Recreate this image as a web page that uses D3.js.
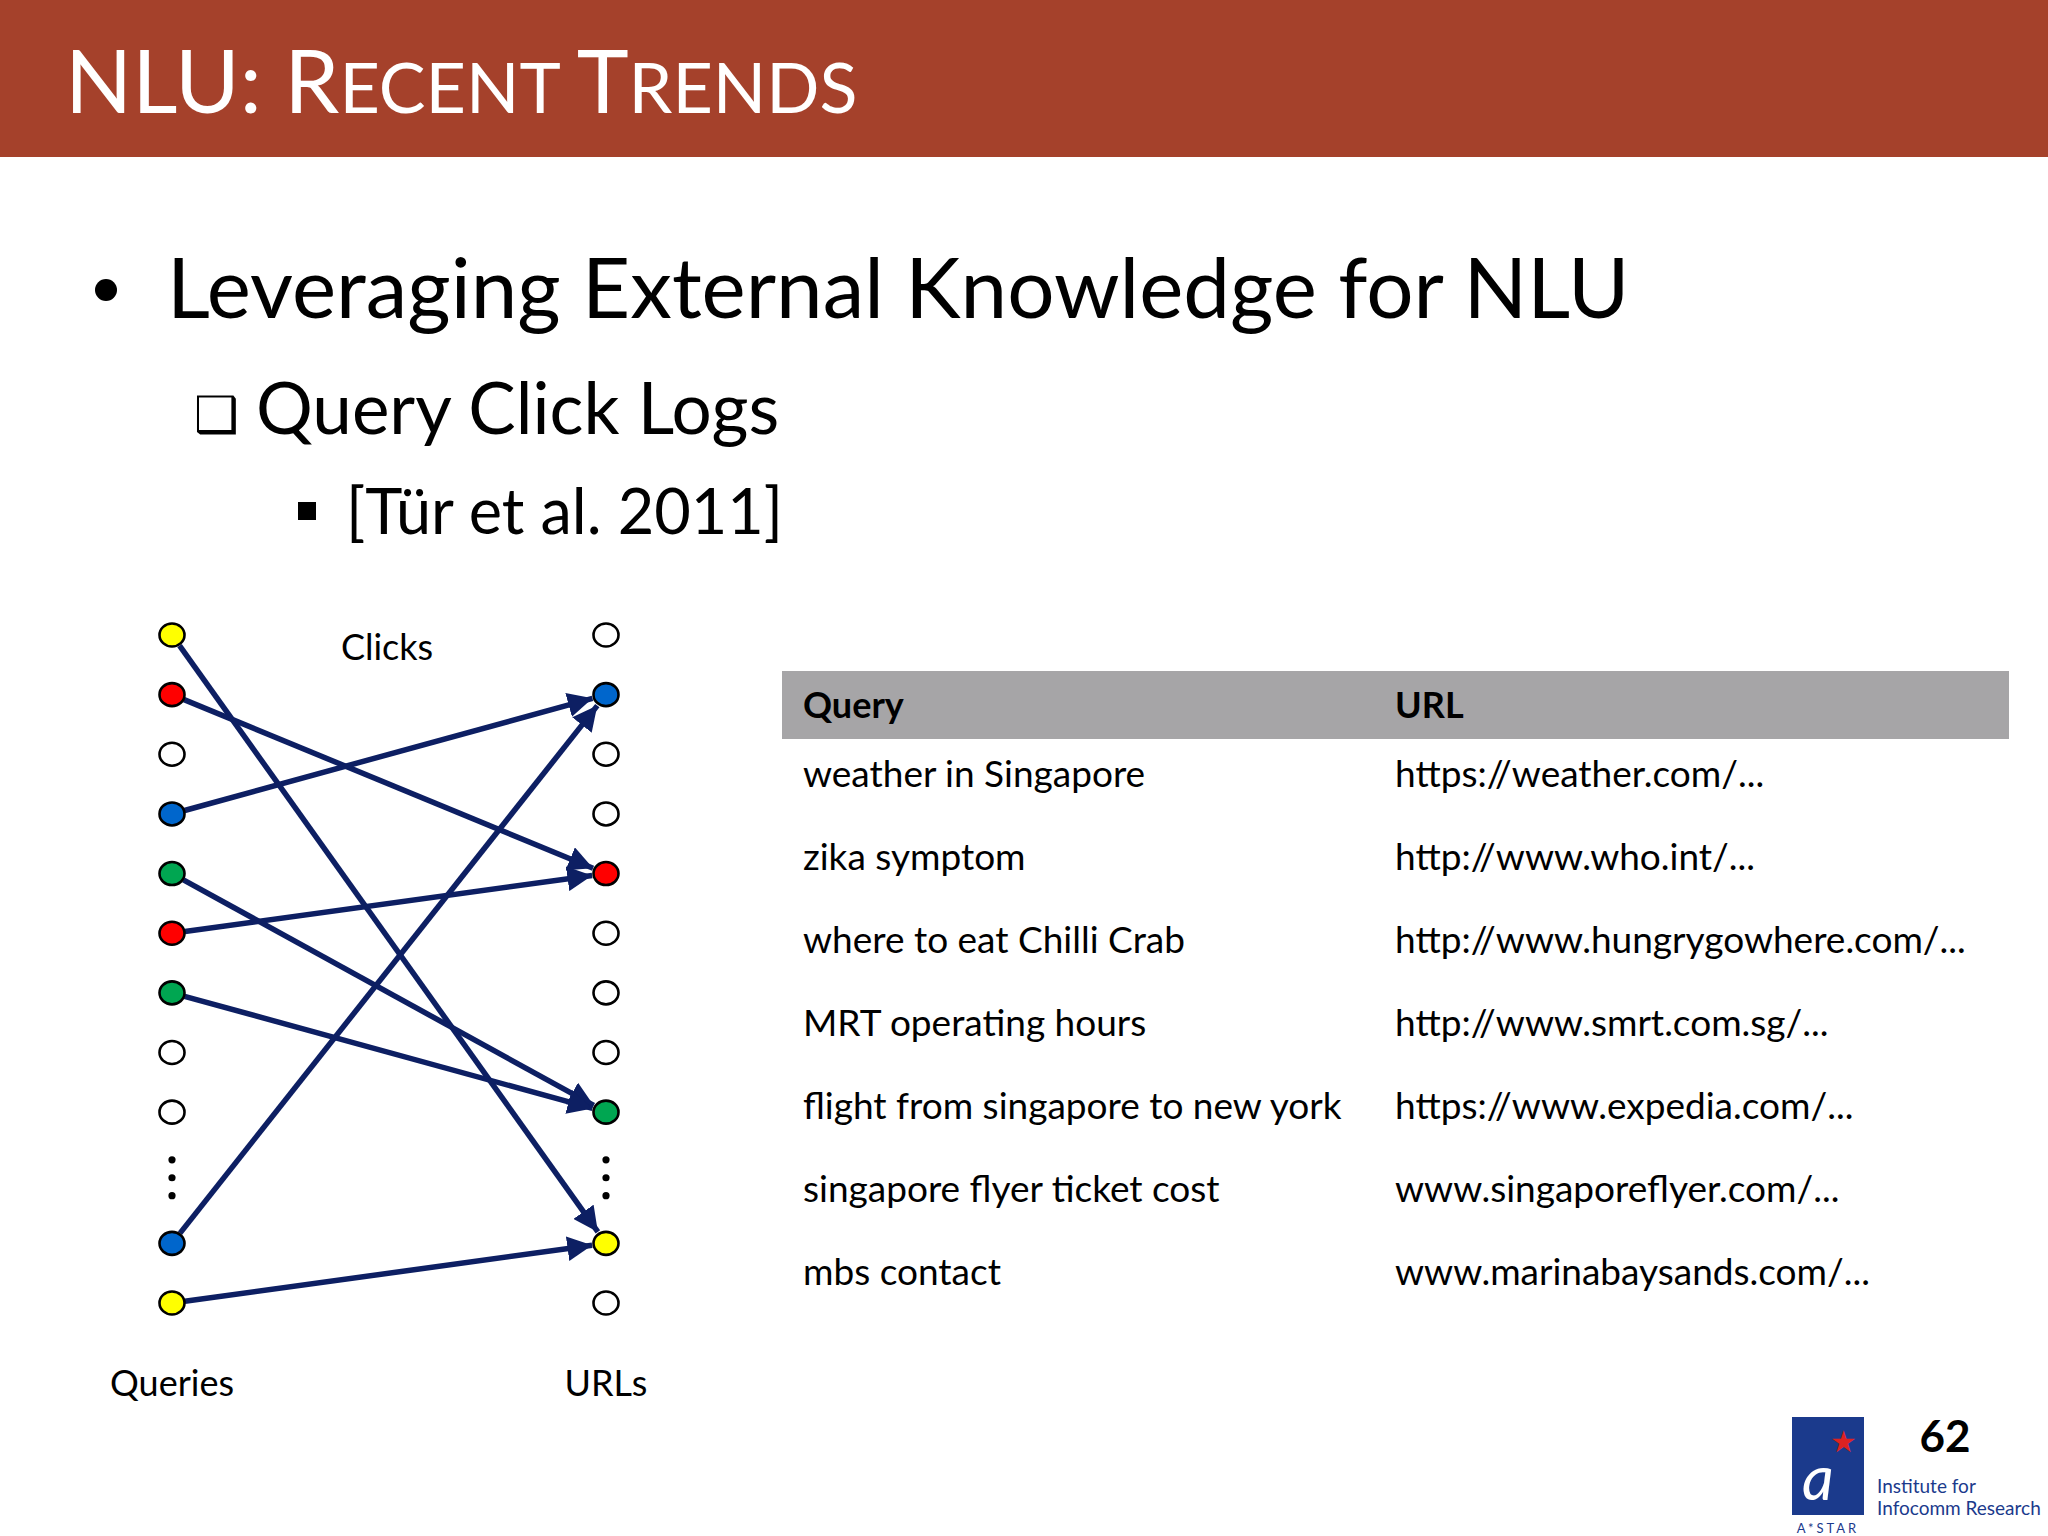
<!DOCTYPE html><html><head><meta charset="utf-8">
<script src="https://cdn.jsdelivr.net/npm/d3@7"></script>
<style>body{margin:0;background:#fff}text{font-family:Lato,"Open Sans",sans-serif}</style></head><body>
<svg id="c" width="2048" height="1536"></svg>
<script>
const leftColors=["#ffff00","#ff0000","#fff","#0066cc","#00a651","#ff0000","#00a651","#fff","#fff","#0066cc","#ffff00"];
const rightColors=["#fff","#0066cc","#fff","#fff","#ff0000","#fff","#fff","#fff","#00a651","#ffff00","#fff"];
const slots=[0,1,2,3,4,5,6,7,8,10.2,11.2];
const edges=[[0,9],[1,4],[3,1],[4,8],[5,4],[6,8],[9,1],[10,9]];
const queries=["weather in Singapore","zika symptom","where to eat Chilli Crab","MRT operating hours","flight from singapore to new york","singapore flyer ticket cost","mbs contact"];
const urls=["https://weather.com/...","http://www.who.int/...","http://www.hungrygowhere.com/...","http://www.smrt.com.sg/...","https://www.expedia.com/...","www.singaporeflyer.com/...","www.marinabaysands.com/..."];

const svg=d3.select("#c");
svg.append("rect").attr("width",2048).attr("height",157).attr("fill","#A5412B");
const t=svg.append("text").attr("x",65).attr("y",113).attr("fill","#fff").attr("font-size",88);
t.append("tspan").text("NLU: R");t.append("tspan").attr("font-size",70).text("ECENT ");
t.append("tspan").text("T");t.append("tspan").attr("font-size",70).text("RENDS");
svg.append("circle").attr("cx",106).attr("cy",290).attr("r",11).attr("fill","#000");
svg.append("text").attr("x",167).attr("y",318).attr("font-size",83.5).text("Leveraging External Knowledge for NLU");
svg.append("text").attr("x",194).attr("y",432).attr("font-size",50).text("❑");
svg.append("text").attr("x",256).attr("y",434).attr("font-size",71).text("Query Click Logs");
svg.append("rect").attr("x",298).attr("y",502).attr("width",18).attr("height",18).attr("fill","#000");
svg.append("text").attr("x",346).attr("y",534).attr("font-size",63).text("[Tür et al. 2011]");

// graph
const y=d3.scaleLinear().domain([0,11.2]).range([635,1303]);
const x=d3.scalePoint().domain(["Queries","URLs"]).range([172,606]);
const g=svg.append("g");
g.append("defs").append("marker").attr("id","ah").attr("viewBox","0 0 10 10").attr("refX",10).attr("refY",5)
 .attr("markerWidth",4.5).attr("markerHeight",4.5).attr("orient","auto").attr("markerUnits","strokeWidth")
 .append("path").attr("d","M0,0L10,5L0,10z").attr("fill","#0D1F63");
const R=13;
edges.forEach(([a,b])=>{
 const x1=x("Queries"),y1=y(slots[a]),x2=x("URLs"),y2=y(slots[b]);
 const dx=x2-x1,dy=y2-y1,L=Math.hypot(dx,dy);
 g.append("line").attr("x1",x1+dx/L*R).attr("y1",y1+dy/L*R).attr("x2",x2-dx/L*(R+1)).attr("y2",y2-dy/L*(R+1))
  .attr("stroke","#0D1F63").attr("stroke-width",5.5).attr("marker-end","url(#ah)");
});
[[leftColors,"Queries"],[rightColors,"URLs"]].forEach(([cols,k])=>{
 g.selectAll(null).data(cols).enter().append("ellipse").attr("cx",x(k)).attr("cy",(d,i)=>y(slots[i]))
  .attr("rx",12.5).attr("ry",11.5).attr("fill",d=>d).attr("stroke","#000").attr("stroke-width",2.6);
 [9.05-0.3,9.05,9.05+0.3].forEach(s=>g.append("circle").attr("cx",x(k)).attr("cy",y(s+0.05)).attr("r",3.6).attr("fill","#000"));
 g.append("text").attr("x",x(k)).attr("y",1396).attr("text-anchor","middle").attr("font-size",36).text(k);
});
g.append("text").attr("x",387).attr("y",660).attr("text-anchor","middle").attr("font-size",36).text("Clicks");

// table
svg.append("rect").attr("x",782).attr("y",671).attr("width",1227).attr("height",68).attr("fill","#A6A5A7");
svg.append("text").attr("x",803).attr("y",718).attr("font-size",36).attr("font-weight","bold").text("Query");
svg.append("text").attr("x",1395).attr("y",718).attr("font-size",36).attr("font-weight","bold").text("URL");
const ry=d3.scaleLinear().domain([0,6]).range([787,1285]);
svg.selectAll(null).data(queries).enter().append("text").attr("x",803).attr("y",(d,i)=>ry(i)).attr("font-size",37).text(d=>d);
svg.selectAll(null).data(urls).enter().append("text").attr("x",1395).attr("y",(d,i)=>ry(i)).attr("font-size",37).text(d=>d);

// footer
svg.append("text").attr("x",1945).attr("y",1452).attr("text-anchor","middle").attr("font-size",44).attr("font-weight","bold").text("62");
svg.append("rect").attr("x",1792).attr("y",1417).attr("width",72).attr("height",98).attr("fill","#1B3A8C");
svg.append("text").attr("x",1802).attr("y",1500).attr("font-size",62).attr("font-style","italic").attr("fill","#fff").attr("font-family","DejaVu Serif").text("a");
svg.append("text").attr("x",1843).attr("y",1452).attr("font-size",30).attr("fill","#d22").attr("text-anchor","middle").text("★");
svg.append("text").attr("x",1828).attr("y",1533).attr("font-size",13).attr("fill","#1B3A8C").attr("text-anchor","middle").attr("letter-spacing",3).text("A*STAR");
svg.append("text").attr("x",1877).attr("y",1493).attr("font-size",19).attr("fill","#1B3A8C").text("Institute for");
svg.append("text").attr("x",1877).attr("y",1515).attr("font-size",19).attr("fill","#1B3A8C").text("Infocomm Research");
</script></body></html>
